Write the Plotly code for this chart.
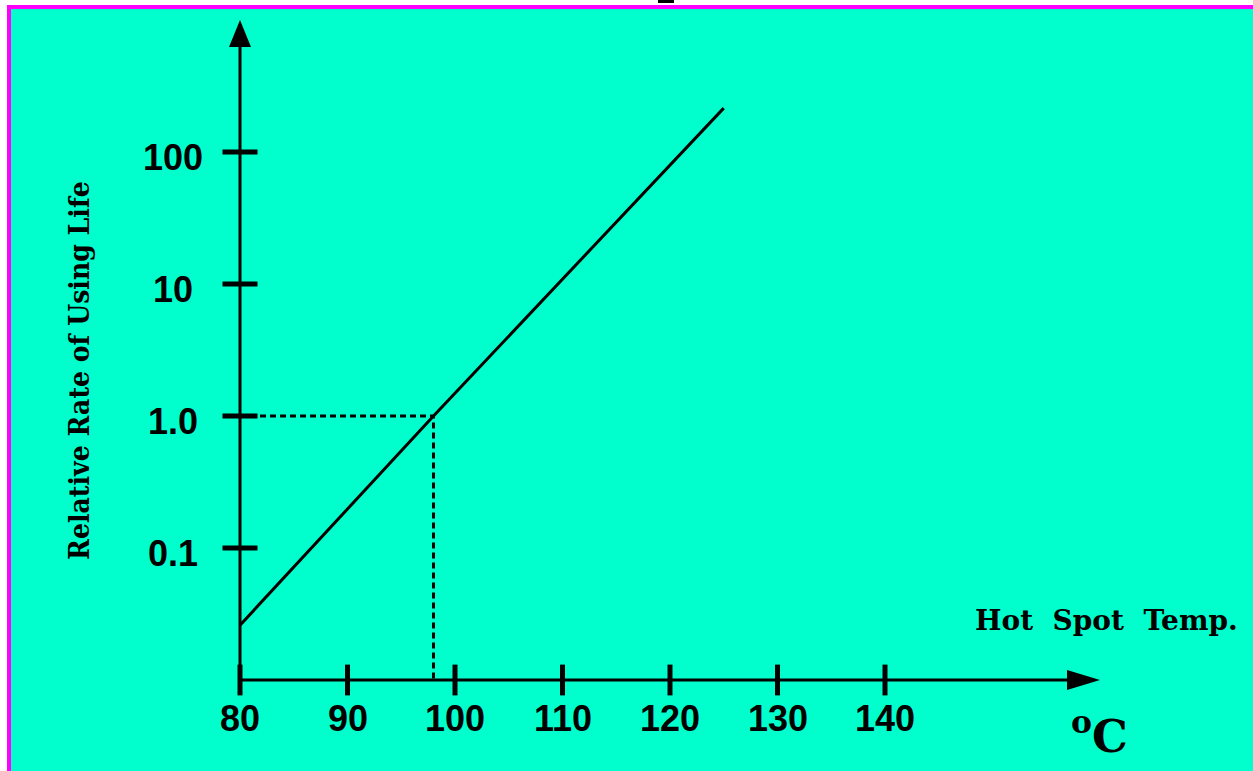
import numpy as np
import plotly.graph_objects as go

# ---------------- data ----------------
temps = [80, 98, 125]                 # hot spot temperature (°C)
rates = [0.026, 1.0, 215]             # relative rate of using life
ref_temp = 98
ref_rate = 1.0
x_ticks = [80, 90, 100, 110, 120, 130, 140]
x_tick_labels = ["80", "90", "100", "110", "120", "130", "140"]
y_ticks = [0.1, 1, 10, 100]
y_tick_labels = ["0.1", "1.0", "10", "100"]
x_axis_start = 80
x_axis_end = 160
y_axis_base = 0.01
y_axis_end = 1000
y_title = "Relative Rate of Using Life"
x_title = "Hot\u00a0 Spot\u00a0 Temp."
unit_text = "<sup>o</sup>C"

# ---------------- layout geometry ----------------
W, H = 1253, 771
PX_PER_DEG = 10.75
PX_PER_DEC = 132.0
X_ORIGIN_PX = 240
Y_BASE_PX = 680

x_range = [x_axis_start - X_ORIGIN_PX / PX_PER_DEG,
           x_axis_start + (W - X_ORIGIN_PX) / PX_PER_DEG]
y_range = [np.log10(y_axis_base) - (H - Y_BASE_PX) / PX_PER_DEC,
           np.log10(y_axis_base) + Y_BASE_PX / PX_PER_DEC]

CYAN = "#00FFCC"
MAGENTA = "#FF00FF"
TICK_FONT = dict(family="Liberation Sans, Arial, sans-serif", size=36, color="black", weight="bold")

fig = go.Figure()

# axis lines (end inside arrowheads)
fig.add_trace(go.Scatter(
    x=[x_axis_start, x_axis_start],
    y=[y_axis_base, 10 ** (np.log10(y_axis_end) - 12 / PX_PER_DEC)],
    mode="lines", line=dict(color="black", width=3), hoverinfo="skip"))
fig.add_trace(go.Scatter(
    x=[x_axis_start, x_axis_end - 15 / PX_PER_DEG],
    y=[y_axis_base, y_axis_base],
    mode="lines", line=dict(color="black", width=3), hoverinfo="skip"))

# dashed reference lines
fig.add_trace(go.Scatter(
    x=[x_axis_start, ref_temp, ref_temp],
    y=[ref_rate, ref_rate, y_axis_base],
    mode="lines", line=dict(color="black", width=3, dash="6px,4px"), hoverinfo="skip"))

# main line
fig.add_trace(go.Scatter(
    x=temps, y=rates, mode="lines",
    line=dict(color="black", width=3), hoverinfo="skip"))

# tick marks
fig.add_trace(go.Scatter(
    x=x_ticks, y=[y_axis_base] * len(x_ticks), mode="markers",
    marker=dict(symbol="line-ns", size=22, line=dict(color="black", width=5)),
    hoverinfo="skip"))
fig.add_trace(go.Scatter(
    x=[x_axis_start] * len(y_ticks), y=y_ticks, mode="markers",
    marker=dict(symbol="line-ew", size=25, line=dict(color="black", width=5)),
    hoverinfo="skip"))

annotations = []
for t, lab in zip(x_ticks, x_tick_labels):
    annotations.append(dict(x=t, y=np.log10(y_axis_base), xref="x", yref="y",
                            text=lab, showarrow=False, yshift=-38,
                            xanchor="center", yanchor="middle", font=TICK_FONT))
for v, lab in zip(y_ticks, y_tick_labels):
    annotations.append(dict(x=x_axis_start, y=np.log10(v), xref="x", yref="y",
                            text=lab, showarrow=False, xshift=-67, yshift=-5,
                            xanchor="center", yanchor="middle", font=TICK_FONT))

annotations.append(dict(x=79 / W, y=1 - 371 / H, xref="paper", yref="paper",
                        text=y_title, textangle=-90, showarrow=False,
                        xanchor="center", yanchor="middle",
                        font=dict(family="DejaVu Serif Condensed, DejaVu Serif, serif",
                                  size=28, color="black", weight="bold")))
annotations.append(dict(x=1106 / W, y=1 - 620 / H, xref="paper", yref="paper",
                        text=x_title, showarrow=False,
                        xanchor="center", yanchor="middle",
                        font=dict(family="DejaVu Serif, serif", size=28, color="black", weight="bold")))
annotations.append(dict(x=1099 / W, y=1 - 733 / H, xref="paper", yref="paper",
                        text=unit_text, showarrow=False,
                        xanchor="center", yanchor="middle",
                        font=dict(family="DejaVu Serif, serif", size=45, color="black", weight="bold")))

shapes = [
    # background panel with magenta frame
    dict(type="rect", xref="paper", yref="paper", layer="below",
         x0=9 / W, x1=1.02, y0=-0.02, y1=1 - 7 / H,
         fillcolor=CYAN, line=dict(color=MAGENTA, width=4)),
    # fragment of the cut-off title at the top edge
    dict(type="rect", xref="paper", yref="paper", layer="above",
         x0=658 / W, x1=674 / W, y0=1 - 3 / H, y1=1.01,
         fillcolor="black", line=dict(width=0)),
    # arrowheads (pixel sized, anchored at axis ends)
    dict(type="path", xref="x", yref="y", xsizemode="pixel", ysizemode="pixel",
         xanchor=x_axis_start, yanchor=y_axis_end,
         path="M -11,-27 L 11,-27 L 0,0 Z", fillcolor="black", line=dict(width=0)),
    dict(type="path", xref="x", yref="y", xsizemode="pixel", ysizemode="pixel",
         xanchor=x_axis_end, yanchor=y_axis_base,
         path="M -33,-10 L -33,10 L 0,0 Z", fillcolor="black", line=dict(width=0)),
]

fig.update_layout(
    width=W, height=H, autosize=False,
    margin=dict(l=0, r=0, t=0, b=0, pad=0),
    paper_bgcolor="white", plot_bgcolor="rgba(0,0,0,0)",
    showlegend=False,
    xaxis=dict(range=x_range, visible=False, fixedrange=True),
    yaxis=dict(type="log", range=y_range, visible=False, fixedrange=True),
    annotations=annotations, shapes=shapes,
)

fig.write_html("out.html", config={"displayModeBar": False},
               post_script="document.body.style.margin='0';document.body.style.overflow='hidden';")
